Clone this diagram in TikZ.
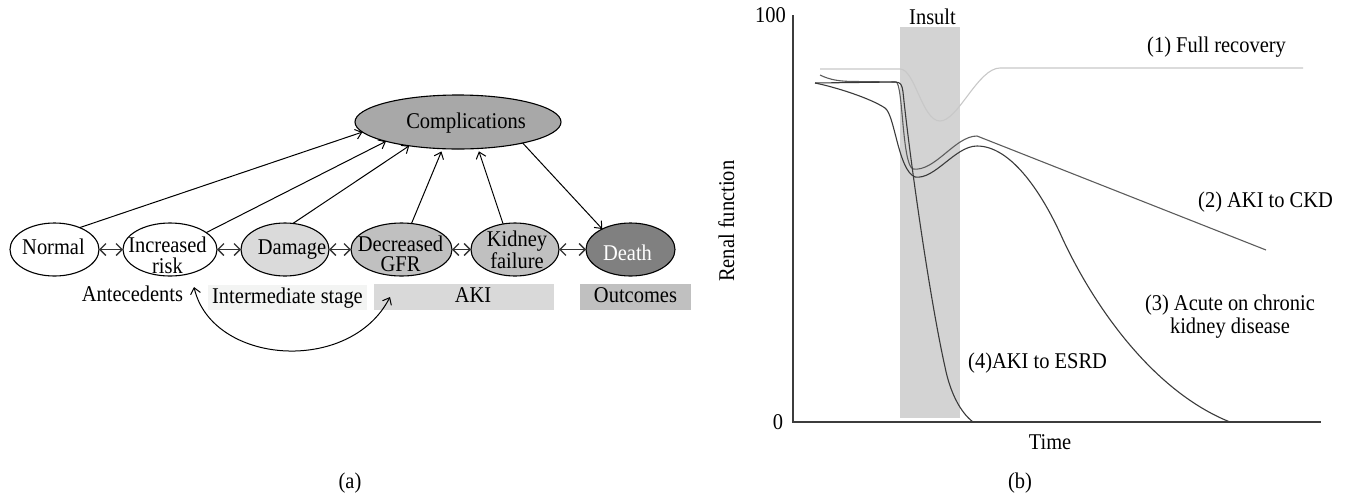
\documentclass[tikz,border=0pt]{standalone}
\usepackage{fontspec}
\setmainfont[FakeStretch=0.91]{Liberation Serif}
\usetikzlibrary{arrows.meta,shapes.geometric}
\definecolor{fillA}{HTML}{DADADA}
\definecolor{fillB}{HTML}{C0C0C0}
\definecolor{fillC}{HTML}{A8A8A8}
\definecolor{fillD}{HTML}{808080}
\definecolor{bandI}{HTML}{F3F4F3}
\definecolor{bandA}{HTML}{D9D9D9}
\definecolor{bandO}{HTML}{C0C0C0}
\definecolor{insultc}{HTML}{D3D3D3}
\definecolor{axisc}{HTML}{3C3C3C}
\definecolor{fullc}{HTML}{C8C8C8}
\definecolor{ckdc}{HTML}{5C5C5C}
\definecolor{darkc}{HTML}{3A3A3A}
\begin{document}
\begin{tikzpicture}[x=1pt,y=-1pt,
  font=\fontsize{22.5}{19}\selectfont,
  stage/.style={draw=black, line width=1.1pt, ellipse, inner sep=0pt, outer sep=0pt, minimum height=53pt},
  txt/.style={inner sep=0pt, align=center},
  lab/.style={inner sep=0pt, anchor=base},
  dbl/.style={draw=black!80, line width=1.3pt, {Straight Barb[length=6pt,width=12pt]}-{Straight Barb[length=6pt,width=12pt]}},
  toc/.style={draw=black, line width=1pt, -{Straight Barb[length=6pt,width=10pt]}},
  curv/.style={draw=black, line width=1pt, {Straight Barb[length=6pt,width=10pt]}-{Straight Barb[length=6pt,width=10pt]}},
  band/.style={inner sep=0pt, outer sep=0pt, minimum height=25.5pt, text height=15pt, text depth=4pt},
  axis/.style={draw=axisc, line width=1.5pt},
  crv/.style={line width=1.1pt}
]
\useasboundingbox (0,0) rectangle (1351,496);

% ---------- panel (a) ----------
\node[stage, fill=white, minimum width=89pt] (normal) at (54.5,249.5) {};
\node[stage, fill=white, minimum width=94pt] (incr) at (170,249.5) {};
\node[stage, fill=fillA, minimum width=88pt] (damage) at (285,249.5) {};
\node[stage, fill=fillB, minimum width=101pt] (gfr) at (401.5,249.5) {};
\node[stage, fill=fillB, minimum width=88pt] (kidney) at (515,249.5) {};
\node[stage, fill=fillD, minimum width=89pt] (death) at (630.5,249.5) {};
\node[stage, fill=fillC, minimum width=206pt, minimum height=54pt] (comp) at (458,122) {};

\node[lab] (tnormal) at (53.5,254) {Normal};
\node[txt, font=\fontsize{22.5}{20.5}\selectfont] (tincr) at (167.5,255.5) {Increased\\risk};
\node[lab] (tdamage) at (292,254) {Damage};
\node[txt, font=\fontsize{22.5}{20.5}\selectfont] (tgfr) at (400.5,254) {Decreased\\GFR};
\node[txt] (tkidney) at (517,249.5) {Kidney\\failure};
\node[lab, text=white] (tdeath) at (627.5,260) {Death};
\node[lab] (tcomp) at (466,128) {Complications};

\draw[dbl] (normal.east) -- (incr.west);
\draw[dbl] (incr.east) -- (damage.west);
\draw[dbl] (damage.east) -- (gfr.west);
\draw[dbl] (gfr.east) -- (kidney.west);
\draw[dbl] (kidney.east) -- (death.west);

\draw[toc] (normal.41.6) -- (comp.186);
\draw[toc] (incr.25) -- (comp.195);
\draw[toc] (damage.73) -- (comp.206);
\draw[toc, shorten >=3pt] (gfr.69) -- (comp.240);
\draw[toc, shorten >=3pt] (kidney.115) -- (comp.307);
\draw[toc] (comp.342) -- (death.144.5);

\node[lab] (antec) at (132.5,301) {Antecedents};
\node[band, fill=bandI, minimum width=159pt] (inter) at (287.5,297.5) {Intermediate stage};
\node[band, fill=bandA, minimum width=180pt] (aki) at (464,297) {};
\node[lab] (taki) at (473,302) {AKI};
\node[band, fill=bandO, minimum width=111pt] (outc) at (635.5,297) {Outcomes};

\coordinate (ca) at (194,287);
\coordinate (cb) at (390,297);
\draw[curv] (ca) .. controls (212,365) and (350,375) .. (cb);

\node[lab] (capa) at (350,488) {(a)};

% ---------- panel (b) ----------
\fill[insultc] (900,27) rectangle (960,418);
\node[lab] (insult) at (932.5,24) {Insult};

\draw[axis] (793,15) -- (793,422.75);
\draw[axis] (792.25,422) -- (1321,422);
\node[inner sep=0pt, anchor=east] (t100) at (786,15) {100};
\node[inner sep=0pt] (t0) at (778,422) {0};
\node[lab] (time) at (1050,449) {Time};
\node[lab, rotate=90, anchor=base west] (renal) at (734,282) {Renal function};

% (1) full recovery
\draw[crv, fullc] (820,69) -- (900,69) .. controls (915,69) and (922,121) .. (940,121)
  .. controls (958,121) and (978,68) .. (1000,68) -- (1303,68);
% (2) AKI to CKD
\draw[crv, ckdc] (820,75) .. controls (830,80) and (840,81.5) .. (855,81.5) -- (896,82)
  .. controls (903,83) and (902,165) .. (913,169)
  .. controls (935,172) and (955,136) .. (977,136) -- (1266,250);
% (3) acute on chronic
\draw[crv, darkc] (815,83) .. controls (835,87) and (870,98) .. (885,108)
  .. controls (895,115) and (898,170) .. (915,177)
  .. controls (935,180) and (955,146) .. (977,146)
  .. controls (1010,146) and (1040,190) .. (1060,233)
  .. controls (1090,300) and (1150,390) .. (1230,422);
% (4) AKI to ESRD
\draw[crv, darkc] (815,83) -- (895,82) .. controls (901,82) and (902,85) .. (903,92)
  .. controls (910,160) and (930,300) .. (945,367)
  .. controls (950,392) and (960,412) .. (973,422);

\node[lab, anchor=base west] (l1) at (1147,52) {(1) Full recovery};
\node[lab, anchor=base west] (l2) at (1198,207) {(2) AKI to CKD};
\node[txt, anchor=base, font=\fontsize{22.5}{23}\selectfont] (l3) at (1230,333) {(3) Acute on chronic\\kidney disease};
\node[lab, anchor=base west] (l4) at (968,368) {(4)AKI to ESRD};

\node[lab] (capb) at (1020,488) {(b)};
\end{tikzpicture}
\end{document}
